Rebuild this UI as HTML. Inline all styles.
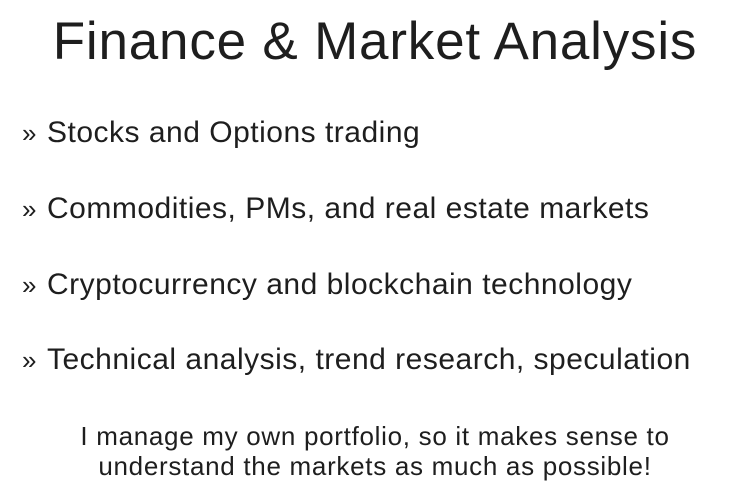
<!DOCTYPE html>
<html>
<head>
<meta charset="utf-8">
<style>
  html, body { margin:0; padding:0; }
  body { width:750px; height:500px; background:#fff; position:relative; overflow:hidden;
         font-family:"Liberation Sans", sans-serif; color:#1e1e1e; }
  .abs { position:absolute; white-space:nowrap; }
  #title { left:0; width:750px; text-align:center; top:12px; font-size:53px; line-height:60px; letter-spacing:0.8px; }
  .bullet { left:22px; font-size:30px; line-height:36px; }
  .bullet .mark { display:inline-block; width:25px; font-size:26px; }
  .bullet .txt { letter-spacing:0.5px; }
  .foot { left:0; width:750px; text-align:center; font-size:26px; line-height:30px; letter-spacing:0.7px; }
</style>
</head>
<body>
  <div id="title" class="abs">Finance &amp; Market Analysis</div>

  <div class="abs bullet" style="top:115px"><span class="mark">»</span><span class="txt">Stocks and Options trading</span></div>
  <div class="abs bullet" style="top:191px"><span class="mark">»</span><span class="txt">Commodities, PMs, and real estate markets</span></div>
  <div class="abs bullet" style="top:267px"><span class="mark">»</span><span class="txt">Cryptocurrency and blockchain technology</span></div>
  <div class="abs bullet" style="top:342px"><span class="mark">»</span><span class="txt">Technical analysis, trend research, speculation</span></div>

  <div class="abs foot" style="top:421px">I manage my own portfolio, so it makes sense to</div>
  <div class="abs foot" style="top:451px">understand the markets as much as possible!</div>
</body>
</html>
